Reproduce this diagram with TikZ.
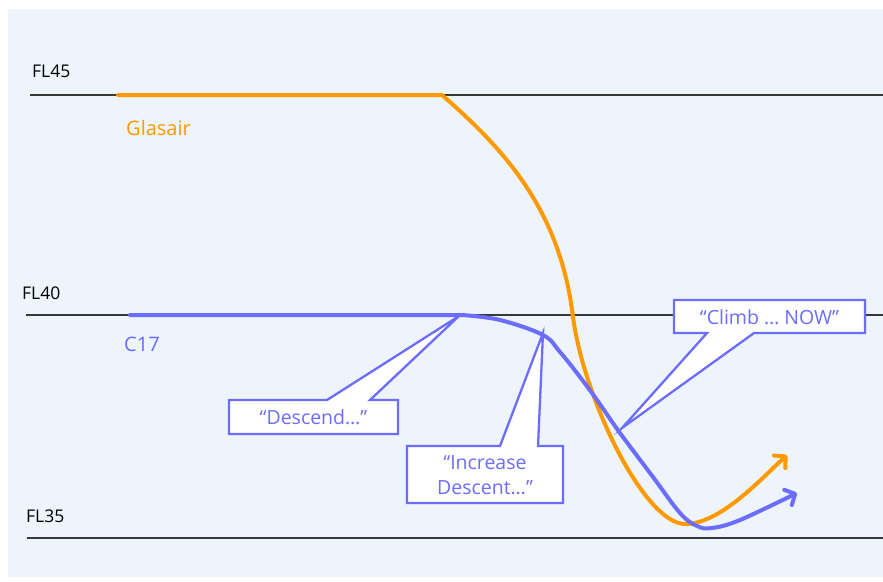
\documentclass[tikz,border=0pt]{standalone}
\usepackage{fontspec}
\setmainfont{Open Sans}
\usetikzlibrary{arrows.meta}
\definecolor{panel}{RGB}{237,244,251}
\definecolor{glasair}{RGB}{255,153,0}
\definecolor{csev}{RGB}{108,108,255}
\definecolor{level}{RGB}{55,55,60}

\begin{document}
\begin{tikzpicture}[x=1pt,y=-1pt,
  flevel/.style={draw=level,line width=1.3pt},
  fltext/.style={anchor=base west,inner sep=0pt,font=\fontsize{17.5}{20}\selectfont},
  trackname/.style={anchor=base west,inner sep=0pt,font=\fontsize{20}{24}\selectfont},
  track/.style={line width=4pt,line cap=round,line join=round,
    -{Straight Barb[length=8pt,width=17pt,round]}},
  balloon/.style={draw=csev,fill=white,line width=2.3pt},
  saying/.style={text=csev,align=center,inner sep=0pt,
    font=\fontsize{19.5}{25}\selectfont}]
  \def\fla{95}
  \def\flb{315}
  \def\flc{538}
  \useasboundingbox (0,0) rectangle (883,581);
  \fill[panel] (8,9) rectangle (883,577);

  % flight levels
  \draw[flevel] (30,\fla) -- (883,\fla);
  \draw[flevel] (26,\flb) -- (883,\flb);
  \draw[flevel] (27,\flc) -- (883,\flc);
  \node[fltext] (fl45) at (32,77) {FL45};
  \node[fltext] (fl40) at (22,299) {FL40};
  \node[fltext] (fl35) at (26,522) {FL35};

  % tracks
  \draw[track,glasair] (118,\fla) -- (442,\fla) .. controls (505,150) and (560,210) .. (573,317)
    .. controls (584,400) and (645,524) .. (685,524) .. controls (720,524) and (760,480) .. (787,455);
  \draw[track,csev] (130,\flb) -- plot[smooth,tension=0.6] coordinates {(462,\flb) (500,320)
    (543,335) (560,352) (580,377) (597,400) (620,433) (653,477) (680,513) (697,526)
    (712,528) (740,520) (797,493)};
  \node[trackname,glasair] (glasair) at (126,135) {Glasair};
  \node[trackname,csev] (c17) at (124,351) {C17};

  % ATC calls
  \draw[balloon] (229,400) -- (327,400) -- (459,316) -- (370,400) -- (398,400)
    -- (398,434) -- (229,434) -- cycle;
  \node[saying] (descend) at (313.5,417) {“Descend…”};
  \draw[balloon] (407,446) -- (500,446) -- (543,333) -- (538,446) -- (563,446)
    -- (563,503) -- (407,503) -- cycle;
  \node[saying] (increase) at (485,475) {“Increase\\Descent…”};
  \draw[balloon] (674,300) -- (865,300) -- (865,333) -- (754,333) -- (622,428)
    -- (707,333) -- (674,333) -- cycle;
  \node[saying] (climb) at (769.5,317) {“Climb … NOW”};
\end{tikzpicture}
\end{document}
